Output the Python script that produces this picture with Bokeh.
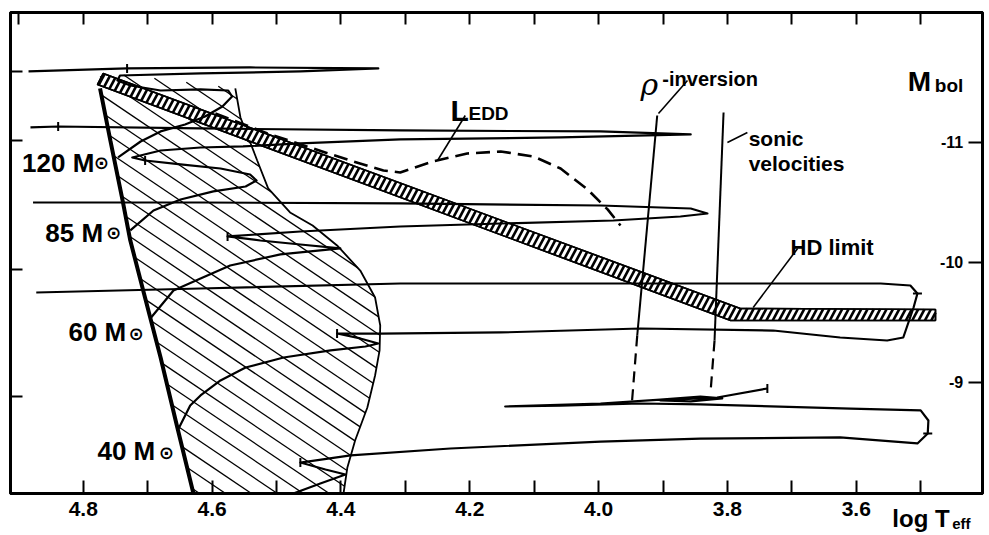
import numpy as np
from bokeh.plotting import figure
from bokeh.models import Range1d, LinearAxis, FixedTicker, PrintfTickFormatter, Label
from bokeh.core.properties import value
from bokeh.embed import file_html
from bokeh.resources import INLINE

# ---------------- data (log Teff, Mbol) ----------------
zams_logt = [4.774, 4.758, 4.739, 4.727, 4.707, 4.680, 4.654, 4.629]
zams_mbol = [-11.45, -11.017, -10.517, -10.183, -9.767, -9.208, -8.625, -8.075]

region_top_logt = [4.774, 4.685]
region_top_mbol = [-11.583, -11.533]
region_edge_logt = [4.564, 4.556, 4.545, 4.530, 4.513, 4.479, 4.444, 4.406, 4.370,
                    4.347, 4.339, 4.340, 4.347, 4.359, 4.378, 4.390, 4.396]
region_edge_mbol = [-11.450, -11.208, -11.058, -10.850, -10.617, -10.417, -10.308, -10.142,
                    -9.933, -9.708, -9.475, -9.267, -9.058, -8.792, -8.517, -8.292, -8.075]

hd_logt = [4.769, 3.780, 3.477, 3.477, 3.795, 4.778]
hd_mbol = [-11.575, -9.617, -9.608, -9.517, -9.517, -11.483]

track120_logt = [4.746, 4.711, 4.680, 4.642, 4.611, 4.584, 4.569, 4.575, 4.618, 4.680, 4.727,
                 4.747, 4.743, 4.618, 4.463, 4.342, 4.541, 4.732, 4.885]
track120_mbol = [-10.875, -11.008, -11.092, -11.150, -11.217, -11.300, -11.383, -11.433, -11.442,
                 -11.433, -11.475, -11.517, -11.558, -11.575, -11.592, -11.617, -11.625, -11.617, -11.592]

track85_logt = [4.727, 4.691, 4.649, 4.598, 4.548, 4.531, 4.541, 4.587, 4.649, 4.704, 4.724, 4.680,
                4.618, 4.552, 4.463, 4.308, 4.059, 3.857, 3.997, 4.308, 4.618, 4.839, 4.882]
track85_mbol = [-10.267, -10.433, -10.525, -10.592, -10.633, -10.683, -10.733, -10.783, -10.817,
                -10.850, -10.875, -10.933, -10.958, -10.967, -10.992, -11.025, -11.042, -11.067,
                -11.092, -11.100, -11.117, -11.133, -11.125]

track60_logt = [4.696, 4.660, 4.618, 4.572, 4.494, 4.401, 4.463, 4.525, 4.576, 4.463, 4.308, 4.152,
                3.977, 3.873, 3.831, 3.857, 3.997, 4.308, 4.618, 4.878]
track60_mbol = [-9.533, -9.767, -9.867, -9.975, -10.067, -10.117, -10.150, -10.183, -10.217, -10.258,
                -10.300, -10.325, -10.350, -10.383, -10.408, -10.450, -10.475, -10.492, -10.500, -10.500]

track40_logt = [4.652, 4.634, 4.618, 4.587, 4.548, 4.489, 4.416, 4.362, 4.342, 4.370, 4.406, 4.339,
                4.152, 3.935, 3.729, 3.625, 3.552, 3.527, 3.511, 3.505, 3.516, 3.562, 3.935, 4.308,
                4.618, 4.873]
track40_mbol = [-8.617, -8.808, -8.892, -9.017, -9.125, -9.208, -9.267, -9.300, -9.325, -9.367, -9.408,
                -9.408, -9.417, -9.450, -9.433, -9.375, -9.350, -9.375, -9.625, -9.742, -9.808, -9.825,
                -9.825, -9.825, -9.783, -9.750]

track_low_logt = [4.474, 4.432, 4.393, 4.424, 4.463, 4.385, 4.230, 3.997, 3.842, 3.625, 3.505, 3.489,
                  3.488, 3.500, 3.609, 3.842, 3.935, 4.059, 4.145, 3.997, 3.904, 3.842, 3.808, 3.857,
                  3.904, 3.816, 3.738]
track_low_mbol = [-8.075, -8.158, -8.233, -8.275, -8.333, -8.392, -8.450, -8.508, -8.533, -8.542, -8.492,
                  -8.575, -8.683, -8.767, -8.783, -8.817, -8.825, -8.808, -8.800, -8.825, -8.858, -8.883,
                  -8.867, -8.842, -8.850, -8.875, -8.950]

ticks_v_logt = [4.732, 4.839, 4.704, 4.576, 4.406, 4.463, 3.738]
ticks_v_mbol = [-11.617, -11.133, -10.850, -10.217, -9.408, -8.333, -8.950]
ticks_h_logt = [3.505, 3.489]
ticks_h_mbol = [-9.742, -8.575]

ledd_logt = [4.595, 4.514, 4.448, 4.381, 4.334, 4.308, 4.257, 4.204, 4.152, 4.101, 4.059, 4.017, 3.986, 3.966]
ledd_mbol = [-11.242, -11.075, -10.958, -10.842, -10.767, -10.750, -10.842, -10.908, -10.925, -10.883,
             -10.783, -10.608, -10.442, -10.308]

rho_solid_logt = [3.909, 3.940]
rho_solid_mbol = [-11.225, -9.392]
rho_dash_logt = [3.940, 3.948]
rho_dash_mbol = [-9.392, -8.850]
sonic_solid_logt = [3.806, 3.820]
sonic_solid_mbol = [-11.25, -9.35]
sonic_dash_logt = [3.820, 3.826]
sonic_dash_mbol = [-9.35, -8.933]

leader_x0 = [4.207, 3.862, 3.769, 3.691]
leader_y0 = [-11.225, -11.517, -11.083, -10.117]
leader_x1 = [4.250, 3.907, 3.800, 3.760]
leader_y1 = [-10.850, -11.242, -11.000, -9.625]

x_major = [4.8, 4.6, 4.4, 4.2, 4.0, 3.8, 3.6]
x_minor = [4.7, 4.5, 4.3, 4.1, 3.9, 3.7, 3.5]
x_top_ticks = [4.9, 4.8, 4.7, 4.6, 4.5, 4.4, 4.3, 4.2, 4.1, 4.0, 3.9, 3.8, 3.7, 3.6, 3.5]
left_ticks = [-11.592, -11.017, -9.942, -8.883]
mbol_ticks = [-11, -10, -9]
mbol_labels = ["-11", "-10", "-9"]

mass_labels = ["120 M", "85 M", "60 M", "40 M"]
mass_lab_x = [4.895, 4.859, 4.823, 4.778]
mass_lab_y = [-10.825, -10.242, -9.417, -8.433]
sun_x = [4.772, 4.753, 4.718, 4.671]
sun_y = [-10.833, -10.25, -9.408, -8.417]

# ---------------- figure ----------------
X_LEFT, X_RIGHT = 4.913, 3.404
Y_BOTTOM, Y_TOP = -8.075, -12.083
FRAME_W, FRAME_H = 972, 481
FONT = "Liberation Sans"

p = figure(width=989, height=535,
           x_range=Range1d(X_LEFT, X_RIGHT), y_range=Range1d(Y_BOTTOM, Y_TOP),
           output_backend="svg", toolbar_location=None,
           x_axis_location=None, y_axis_location=None,
           min_border_left=10, min_border_right=7, min_border_top=12, min_border_bottom=42)
p.outline_line_color = "black"
p.outline_line_width = 3
p.xgrid.visible = False
p.ygrid.visible = False
p.background_fill_color = "white"
p.border_fill_color = "white"


def tick_only_axis(ticks, tick_len):
    return LinearAxis(ticker=FixedTicker(ticks=[], minor_ticks=ticks),
                      major_tick_in=0, major_tick_out=0,
                      minor_tick_in=tick_len, minor_tick_out=0,
                      minor_tick_line_width=2, minor_tick_line_color="black",
                      axis_line_width=3, axis_line_color="black")


xb = LinearAxis(ticker=FixedTicker(ticks=x_major, minor_ticks=x_minor),
                formatter=PrintfTickFormatter(format="%.1f"),
                major_tick_in=13, major_tick_out=0, minor_tick_in=13, minor_tick_out=0,
                major_tick_line_width=2, minor_tick_line_width=2, axis_line_width=3,
                major_label_text_font=FONT, major_label_text_font_style="bold",
                major_label_text_color="black",
                major_label_text_font_size="21px", major_label_standoff=8)
p.add_layout(xb, "below")
p.add_layout(tick_only_axis(x_top_ticks, 12), "above")
p.add_layout(tick_only_axis(left_ticks, 12), "left")
p.add_layout(tick_only_axis(mbol_ticks, 14), "right")

# screen-space helpers for hatching
KX = FRAME_W / (X_LEFT - X_RIGHT)
KY = FRAME_H / (Y_BOTTOM - Y_TOP)


def to_screen(x, y):
    return (X_LEFT - np.asarray(x, float)) * KX, (np.asarray(y, float) - Y_TOP) * KY


def hatch(xs, ys, angle_deg, spacing, phase=0.0):
    sx, sy = to_screen(xs, ys)
    pts = np.column_stack([sx, sy])
    th = np.radians(angle_deg)
    d = np.array([np.cos(th), np.sin(th)])
    n = np.array([-np.sin(th), np.cos(th)])
    proj = pts @ n
    start = np.floor((proj.min() - phase) / spacing) * spacing + phase
    x0, y0, x1, y1 = [], [], [], []
    m = len(pts)
    for c in np.arange(start, proj.max(), spacing):
        hits = []
        for i in range(m):
            a, b = pts[i], pts[(i + 1) % m]
            fa, fb = a @ n - c, b @ n - c
            if (fa < 0) != (fb < 0):
                t = fa / (fa - fb)
                hits.append(a + t * (b - a))
        hits.sort(key=lambda q: q @ d)
        for k in range(0, len(hits) - 1, 2):
            qa, qb = hits[k], hits[k + 1]
            x0.append(X_LEFT - qa[0] / KX); y0.append(Y_TOP + qa[1] / KY)
            x1.append(X_LEFT - qb[0] / KX); y1.append(Y_TOP + qb[1] / KY)
    return x0, y0, x1, y1


# hatched region between ZAMS and its right boundary
reg_x = region_top_logt + region_edge_logt + zams_logt[::-1]
reg_y = region_top_mbol + region_edge_mbol + zams_mbol[::-1]
hx0, hy0, hx1, hy1 = hatch(reg_x, reg_y, 34, 14.5, 3.0)
p.segment(hx0, hy0, hx1, hy1, line_color="black", line_width=1.3)
p.line(region_edge_logt, region_edge_mbol, line_color="black", line_width=1.8)

# HD limit band
p.patch(hd_logt, hd_mbol, fill_color="white", line_color="black", line_width=1.6)
bx0, by0, bx1, by1 = hatch(hd_logt, hd_mbol, -62, 5.6, 0.0)
p.segment(bx0, by0, bx1, by1, line_color="black", line_width=2.6)
p.patch(hd_logt, hd_mbol, fill_color=None, line_color="black", line_width=1.6)

# evolutionary tracks
for tx, ty in [(track120_logt, track120_mbol), (track85_logt, track85_mbol),
               (track60_logt, track60_mbol), (track40_logt, track40_mbol),
               (track_low_logt, track_low_mbol)]:
    p.line(tx, ty, line_color="black", line_width=2.2, line_join="round")

p.scatter(ticks_v_logt, ticks_v_mbol, marker="dash", size=9, angle=np.pi / 2,
          line_color="black", line_width=2)
p.scatter(ticks_h_logt, ticks_h_mbol, marker="dash", size=9, angle=0,
          line_color="black", line_width=2)

# ZAMS
p.line(zams_logt, zams_mbol, line_color="black", line_width=4)

# Eddington limit
p.line(ledd_logt, ledd_mbol, line_color="black", line_width=2.6, line_dash="14 7")

# rho-inversion and sonic lines
p.line(rho_solid_logt, rho_solid_mbol, line_color="black", line_width=2)
p.line(rho_dash_logt, rho_dash_mbol, line_color="black", line_width=2.2, line_dash="11 7")
p.line(sonic_solid_logt, sonic_solid_mbol, line_color="black", line_width=2)
p.line(sonic_dash_logt, sonic_dash_mbol, line_color="black", line_width=2.2, line_dash="11 7")
p.segment(leader_x0, leader_y0, leader_x1, leader_y1, line_color="black", line_width=1.6)

# right axis labels (inside the frame)
p.text(x=[3.434] * len(mbol_ticks), y=mbol_ticks, text=mbol_labels, text_align="right",
       text_baseline="middle", text_font=value(FONT), text_font_style="bold",
       text_font_size="16px", text_color="black")


def lab(x, y, t, size, font=FONT, style="bold", align="left", baseline="alphabetic"):
    p.add_layout(Label(x=x, y=y, text=t, text_font=font, text_font_style=style,
                       text_font_size=size, text_align=align, text_baseline=baseline,
                       text_color="black"))


for t, x, y in zip(mass_labels, mass_lab_x, mass_lab_y):
    lab(x, y, t, "26px")
for x, y in zip(sun_x, sun_y):
    lab(x, y, "\u2299", "18px", font="DejaVu Sans", align="center", baseline="middle")

lab(4.230, -11.267, "L", "30px")
lab(4.202, -11.242, "EDD", "19px")
lab(3.935, -11.483, "\u03c1", "30px", font="DejaVu Serif", style="italic")
lab(3.901, -11.533, "-inversion", "20px")
lab(3.767, -11.033, "sonic", "21px")
lab(3.767, -10.825, "velocities", "21px")
lab(3.702, -10.125, "HD limit", "22px")
lab(3.520, -11.508, "M", "28px")
lab(3.478, -11.475, "bol", "19px")

# x-axis title below the frame (overlay level so it is not clipped to the frame)
p.text(x=[3.544], y=[-7.867], text=["log T"], text_font=value(FONT), text_font_style="bold",
       text_font_size="24px", text_color="black", text_baseline="alphabetic", level="overlay")
p.text(x=[3.451], y=[-7.825], text=["eff"], text_font=value(FONT), text_font_style="bold",
       text_font_size="15px", text_color="black", text_baseline="alphabetic", level="overlay")

open("out.html", "w").write(file_html(p, INLINE))
